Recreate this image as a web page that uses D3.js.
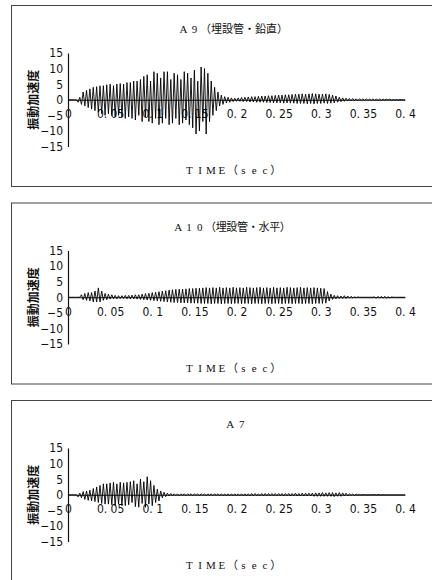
<!DOCTYPE html>
<html><head><meta charset="utf-8">
<script src="https://cdn.jsdelivr.net/npm/d3@7"></script>
<style>body{margin:0;background:#fff}svg{display:block}</style>
</head><body>
<svg id="chart" width="432" height="580"></svg>
<script>
// ---------- data ----------
const timeStep = 0.002; // sampling interval of the records (sec)
const xTicks = [0, 0.05, 0.1, 0.15, 0.2, 0.25, 0.3, 0.35, 0.4];
const xTickLabels = ["0", "0. 05", "0. 1", "0. 15", "0. 2", "0. 25", "0. 3", "0. 35", "0. 4"];
const yTicks = [15, 10, 5, 0, -5, -10, -15];
const panelTitles = ["A9（埋設管・鉛直）", "A10（埋設管・水平）", "A7"];
const yAxisTitle = "振動加速度";
const xAxisTitle = "TIME（sec）";

const a9 = [
  0,0,0,0,0,0,
  -0.8,0.8,-1.5,2.5,-2,
  3,-2.5,3.5,-3,4,
  -3.5,4.2,-4,4.5,-4.5,
  4.5,-5,4.8,-4.5,5,
  -5,4.5,-5.5,5,-5,
  5.2,-5.5,5,-6,5.5,
  -5.5,5.5,-6,6,-6.5,
  6,-5,6.5,-7,7.5,
  -5.5,8,-7,6,-7.5,
  9,-6,8.5,-8,7,
  -7.5,9,-6,9,-8,
  6.5,-7.5,8.5,-6,8,
  -8,6.5,-7.5,9,-6.5,
  8.5,-8,7,-9,9.5,
  -11,6,-10,10.5,-7,
  10,-11,8.5,-7,6,
  -5,4,-3.5,2.5,-2,
  1.5,-1.5,1,-1,0.8,
  -0.8,0.6,-0.6,0.5,-0.5,
  0.6,-0.5,0.7,-0.6,0.8,
  -0.6,0.9,-0.7,1,-0.7,
  1,-0.8,1.1,-0.8,1.2,
  -0.8,1.2,-0.9,1.3,-0.9,
  1.3,-1,1.4,-1,1.5,
  -1,1.5,-1.1,1.6,-1,
  1.6,-1.1,1.7,-1.1,1.8,
  -1.2,1.8,-1.2,1.9,-1.2,
  1.8,-1.3,1.9,-1.2,2,
  -1.3,1.9,-1.2,1.8,-1.2,
  1.8,-1.1,1.9,-1.2,1.7,
  -1.1,1.5,-1,1.2,-0.8,
  0.8,-0.6,0.6,-0.5,0.5,
  -0.4,0.4,-0.3,0.4,-0.3,
  0.3,-0.3,0.3,-0.2,0.3,
  -0.2,0.3,-0.2,0.2,-0.2,
  0.3,-0.2,0.2,-0.2,0.2,
  -0.2,0.2,-0.1,0.2,-0.1,
  0.2,-0.1,0.1,-0.1,0.1,
  -0.1,0.1,0,0,0
];

const a10 = [
  0,0,0,0,0,0,0,0,
  0.8,-0.8,1.2,-1,1.5,
  -1.2,1.5,-1.5,2,-1.5,
  3,-1.5,2,-1,1.2,
  -0.8,1,-0.6,0.8,-0.5,
  0.6,-0.5,0.5,-0.4,0.5,
  -0.4,0.6,-0.5,0.6,-0.5,
  0.7,-0.5,0.8,-0.6,0.8,
  -0.7,1,-0.8,1.2,-0.9,
  1.3,-1,1.5,-1.1,1.6,
  -1.2,1.8,-1.3,2,-1.4,
  2.1,-1.5,2.3,-1.6,2.4,
  -1.7,2.5,-1.7,2.6,-1.8,
  2.6,-1.8,2.7,-1.8,2.8,
  -1.9,2.8,-1.9,2.9,-1.9,
  2.9,-2,3,-2,3.1,
  -2,3,-2.1,3.1,-2,
  3,-2,3.2,-2.1,3,
  -2,3.1,-2,3,-2.1,
  3.2,-2,3,-2,3.1,
  -2.1,3,-2,3.2,-2,
  3.1,-2.1,3,-2,3.1,
  -2,3.2,-2.1,3,-2,
  3.1,-2,3,-2.1,3.2,
  -2,3,-2,3.1,-2.1,
  3,-2,3.2,-2,3.1,
  -2.1,3,-2,3.1,-2,
  3.2,-2.1,3,-2,3.1,
  -2,3,-2.1,3.1,-2,
  3,-2,2.9,-2,2.8,
  -1.9,1.8,-1.2,1,-0.7,
  0.6,-0.5,0.5,-0.4,0.4,
  -0.4,0.5,-0.4,0.4,-0.3,
  0.3,-0.2,0.1,-0.1,0.1,
  0,0,0,0,0,
  0,0,0,0,0.1,
  -0.3,0.3,-0.3,0.3,-0.3,
  0.3,-0.3,0.2,-0.2,0.1,
  0,0,0,0,0,
  0,0,0
];

const a7 = [
  0,0,0,0,0,0,
  -0.7,0.5,-1,1,-1.5,
  1.2,-1.8,1.5,-2,2,
  -2.2,2.5,-2.5,3,-2.8,
  3.5,-3,3.5,-3,3.8,
  -3.2,4,-3.5,3.5,-3,
  4,-3.5,3.8,-3.5,4,
  -3.2,4.2,-2.5,4.5,-3.8,
  3.5,-4,5,-2.8,4.2,
  -4,5.8,-3,4.5,-3.5,
  3,-2.5,1.8,-2,1.2,
  -1,0.8,-0.6,0.5,-0.4,
  0.4,-0.3,0.3,-0.3,0.3,
  -0.3,0.3,-0.2,0.3,-0.3,
  0.3,-0.2,0.3,-0.3,0.3,
  -0.2,0.3,-0.3,0.3,-0.2,
  0.3,-0.3,0.3,-0.2,0.3,
  -0.3,0.3,-0.2,0.3,-0.3,
  0.3,-0.3,0.3,-0.3,0.3,
  -0.3,0.3,-0.3,0.3,-0.3,
  0.3,-0.3,0.3,-0.3,0.3,
  -0.3,0.3,-0.3,0.4,-0.3,
  0.4,-0.3,0.3,-0.3,0.4,
  -0.3,0.4,-0.3,0.4,-0.3,
  0.4,-0.3,0.4,-0.3,0.4,
  -0.3,0.4,-0.4,0.4,-0.3,
  0.4,-0.4,0.4,-0.3,0.5,
  -0.4,0.4,-0.4,0.5,-0.4,
  0.5,-0.4,0.5,-0.4,0.5,
  -0.5,0.6,-0.5,0.6,-0.5,
  0.7,-0.5,0.6,-0.5,0.7,
  -0.5,0.7,-0.6,0.6,-0.5,
  0.7,-0.5,0.6,-0.4,0.5,
  -0.4,0.3,-0.2,0.2,-0.2,
  0.2,-0.1,0.1,-0.1,0.1,
  0,0,0,0,0,
  0,0.1,-0.1,0.1,0,
  0,0,0,0,0,
  0,0,0,0,0,
  0,0,0,0,0
];

const seriesList = [a9, a10, a7];

// ---------- layout ----------
const svg = d3.select("#chart");
const panelOffsets = [0, 197.5, 395];
const titleLayout = [{x: 178, cell: 11}, {x: 173, cell: 10.7}, {x: 224.5, cell: 11.5}];
const x = d3.scaleLinear().domain([0, 0.4]).range([68, 405]);
const tickFont = "'Liberation Sans Narrow','DejaVu Sans Condensed','Arial Narrow',sans-serif";
const serifCJK = "'Liberation Serif','Noto Sans CJK JP',serif";

// text laid out one character per fixed-width cell (full-width typesetting)
function cellText(g, str, x0, yBase, cell) {
  const t = g.append("text")
    .attr("font-family", serifCJK).attr("font-size", 11).attr("fill", "#111")
    .attr("text-anchor", "middle");
  Array.from(str).forEach((ch, i) => {
    t.append("tspan").attr("x", x0 + (i + 0.5) * cell).attr("y", yBase).text(ch);
  });
}

seriesList.forEach((vals, p) => {
  const off = panelOffsets[p];
  const g = svg.append("g");
  const y = d3.scaleLinear().domain([-15, 15]).range([off + 146.5, off + 53]);

  // frame
  g.append("rect")
    .attr("x", 11.5).attr("y", off + 5.5)
    .attr("width", 440).attr("height", 181)
    .attr("fill", "none").attr("stroke", "#444").attr("stroke-width", 1);

  // title
  cellText(g, panelTitles[p], titleLayout[p].x, off + 33, titleLayout[p].cell);

  // x-axis title
  cellText(g, xAxisTitle, 184, off + 174, 10.8);

  // y-axis title
  g.append("text")
    .attr("transform", `translate(32,${y(0)}) rotate(-90)`)
    .attr("text-anchor", "middle").attr("dominant-baseline", "central")
    .attr("font-family", "'Noto Sans CJK JP',sans-serif").attr("font-weight", "bold")
    .attr("font-size", 12).attr("fill", "#111")
    .text(yAxisTitle);

  // y axis
  const yAxis = g.append("g").attr("transform", "translate(68,0)")
    .call(d3.axisLeft(y).tickValues(yTicks).tickSize(0).tickPadding(5).tickFormat(d3.format("d")));
  yAxis.select(".domain").attr("stroke", "#111").attr("stroke-width", 1.2);
  yAxis.selectAll("text").attr("font-family", tickFont).attr("font-size", 12).attr("fill", "#111");

  // x axis at zero
  const xAxis = g.append("g").attr("transform", `translate(0,${y(0)})`)
    .call(d3.axisBottom(x).tickValues(xTicks).tickSize(0).tickPadding(10)
      .tickFormat((d, i) => xTickLabels[i]));
  xAxis.select(".domain").attr("stroke", "#111").attr("stroke-width", 1);
  xAxis.selectAll("text").attr("font-family", tickFont).attr("font-size", 12).attr("fill", "#111");

  // waveform
  const line = d3.line().x((d, i) => x(i * timeStep)).y(d => y(d));
  g.append("path").datum(vals)
    .attr("d", line)
    .attr("fill", "none").attr("stroke", "#000").attr("stroke-width", 0.9);
});
</script>
</body></html>
